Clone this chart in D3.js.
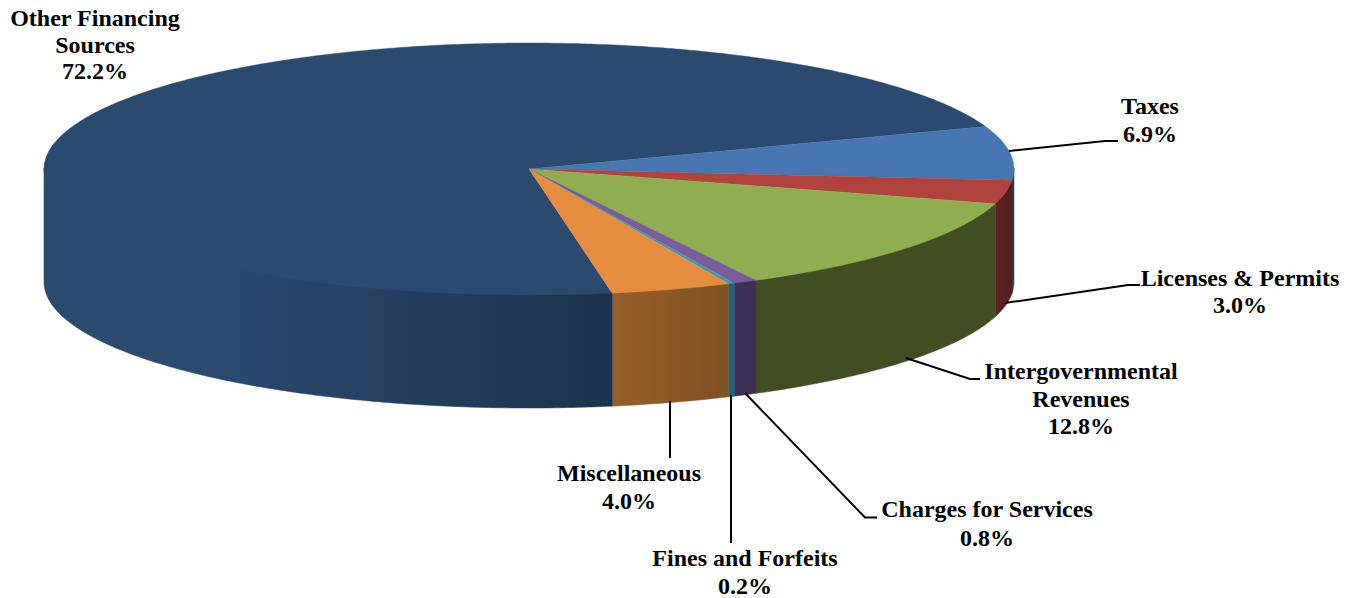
<!DOCTYPE html>
<html>
<head>
<meta charset="utf-8">
<script src="https://cdn.jsdelivr.net/npm/d3@7/dist/d3.min.js"></script>
<style>
  html, body { margin: 0; padding: 0; background: #fff; }
  svg { display: block; }
  text { font-family: "Liberation Serif", serif; font-weight: bold; font-size: 24px; fill: #000; text-anchor: middle; }
</style>
</head>
<body>
<svg id="chart" width="1359" height="598"></svg>
<script>
// Revenue sources and their share of the total, clockwise from the first slice.
const categories = ["Taxes", "Licenses & Permits", "Intergovernmental Revenues", "Charges for Services", "Fines and Forfeits", "Miscellaneous", "Other Financing Sources"];
const shares = [6.9, 3.0, 12.8, 0.8, 0.2, 4.0, 72.2];
const labelLines = [["Taxes"], ["Licenses & Permits"], ["Intergovernmental", "Revenues"], ["Charges for Services"], ["Fines and Forfeits"], ["Miscellaneous"], ["Other Financing", "Sources"]];

// Colours of the top faces and the gradient stops of the rim walls.
const topColors = ["#4677b0", "#b1433f", "#8fae52", "#7a5c9c", "#3f9ab5", "#e58c3f", "#2a4a70"];
const wallStops = [
  [[0, "#24405f"], [1, "#24405f"]],
  [[0, "#5f2320"], [1, "#4f1f1e"]],
  [[0, "#404e22"], [1, "#404e22"]],
  [[0, "#3f3058"], [1, "#3d2e55"]],
  [[0, "#1f6478"], [1, "#1f6478"]],
  [[0, "#97602c"], [1, "#7f5222"]],
  [[0, "#2a4a70"], [0.3, "#2a4a70"], [0.62, "#243f60"], [1, "#1b3350"]]
];

// Label placement: text centre, first baseline, line offsets and leader polylines.
const labelCentres = [1150, 1240, 1081, 987, 745, 629, 95];
const labelBaselines = [113.5, 286, 379, 517, 566, 481, 26];
const lineGaps = [28.5, 27, 27.5, 29, 28, 28, 26.5];
const leaders = [
  [[1009, 151], [1105, 141], [1118, 141]],
  [[1005, 303], [1128, 285], [1140, 285]],
  [[906, 358], [970, 379], [980, 379]],
  [[745, 393], [865, 517.5], [877, 517.5]],
  [[731, 395], [731, 543]],
  [[670, 401], [670, 458]],
  []
];

const svg = d3.select("#chart");
const defs = svg.append("defs");

// The tilted disc: unit circle coordinates mapped onto an ellipse, plus a rim depth.
const x = d3.scaleLinear().domain([-1, 1]).range([44, 1014]);
const y = d3.scaleLinear().domain([-1, 1]).range([43, 295]);
const rimDepth = 113;
const startAngle = 70.3 * Math.PI / 180;

const slices = d3.pie().sort(null).startAngle(startAngle).endAngle(startAngle + 2 * Math.PI)(shares);

const arcSamples = (a0, a1) => {
  const n = Math.max(2, Math.ceil((a1 - a0) / 0.01));
  return d3.range(n + 1).map(i => a0 + (a1 - a0) * i / n);
};
const rimPoint = (a, dy = 0) => [x(Math.sin(a)), y(-Math.cos(a)) + dy];
const line = d3.line();

// Rim walls: only the part of each slice on the near half of the disc is visible.
// Their upper edge runs slightly under the top face so no seam shows between them.
const nearStart = Math.PI / 2, nearEnd = 3 * Math.PI / 2;
slices.forEach((s, i) => {
  const a0 = Math.max(s.startAngle, nearStart), a1 = Math.min(s.endAngle, nearEnd);
  if (a1 <= a0) return;
  const gid = "wall" + i;
  const grad = defs.append("linearGradient").attr("id", gid)
    .attr("gradientUnits", "userSpaceOnUse")
    .attr("x1", Math.min(rimPoint(a0)[0], rimPoint(a1)[0])).attr("y1", 0)
    .attr("x2", Math.max(rimPoint(a0)[0], rimPoint(a1)[0])).attr("y2", 0);
  wallStops[i].forEach(st => grad.append("stop").attr("offset", st[0]).attr("stop-color", st[1]));
  const angles = arcSamples(a0, a1);
  const pts = angles.map(a => rimPoint(a, -1)).concat(angles.slice().reverse().map(a => rimPoint(a, rimDepth)));
  svg.append("path").attr("d", line(pts) + "Z")
    .attr("fill", `url(#${gid})`).attr("stroke", `url(#${gid})`).attr("stroke-width", 0.5);
});

// Top faces, largest first so the small wedges stay on top of its edge.
[6, 0, 1, 2, 3, 4, 5].forEach(i => {
  const s = slices[i];
  const pts = [[x(0), y(0)]].concat(arcSamples(s.startAngle, s.endAngle).map(a => rimPoint(a)));
  svg.append("path").attr("d", line(pts) + "Z")
    .attr("fill", topColors[i]).attr("stroke", topColors[i]).attr("stroke-width", 0.4);
});

// Leader lines.
leaders.forEach(pts => {
  if (pts.length) svg.append("path").attr("d", line(pts)).attr("fill", "none")
    .attr("stroke", "#000").attr("stroke-width", 2);
});

// Labels: name lines followed by the percentage.
categories.forEach((c, i) => {
  const rows = labelLines[i].concat(shares[i].toFixed(1) + "%");
  const t = svg.append("text").attr("aria-label", c);
  rows.forEach((r, k) => {
    t.append("tspan").attr("x", labelCentres[i]).attr("y", labelBaselines[i] + k * lineGaps[i]).text(r);
  });
});
</script>
</body>
</html>
